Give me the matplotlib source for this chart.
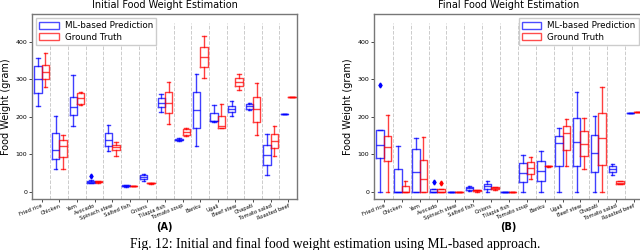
import matplotlib
matplotlib.use('Agg')
import matplotlib.pyplot as plt
from matplotlib.patches import Patch

alimentos = ['Fried rice', 'Chicken', 'Yam', 'Avocado', 'Spinach stew', 'Salted fish', 'Onions',
             'Tilapia fish', 'Tomato soup', 'Banku', 'Ugali', 'Beef stew', 'Chapati',
             'Tomato salad', 'Roasted beef']

# estadisticas: [bigote inf, q1, mediana, q3, bigote sup]
inicial_pred = [[229, 264, 302, 336, 356], [61, 86, 110, 156, 203], [176, 205, 226, 252, 312],
                [22, 23, 25, 29, 30], [109, 121, 138, 156, 179], [12, 14, 16, 17, 18],
                [29, 33, 38, 44, 48], [214, 226, 237, 250, 261], [136, 138, 139, 140, 142],
                [121, 170, 219, 266, 314], [185, 188, 188, 210, 232], [203, 212, 221, 230, 241],
                [219, 221, 228, 234, 236], [43, 71, 99, 125, 154], [208, 208, 208, 208, 208]]
inicial_real = [[279, 301, 319, 339, 370], [59, 93, 121, 139, 150], [232, 235, 250, 263, 266],
                [24, 25, 26, 27, 27], [94, 112, 119, 125, 132], [14, 14, 15, 15, 15],
                [21, 22, 23, 24, 24], [181, 209, 236, 266, 292], [149, 152, 159, 166, 170],
                [305, 332, 359, 388, 416], [169, 171, 174, 203, 235], [272, 283, 294, 303, 314],
                [152, 186, 220, 254, 290], [96, 116, 134, 154, 174], [254, 254, 254, 254, 254]]
inicial_pred_out = [[], [], [], [41], [], [], [], [], [], [], [], [], [], [], []]
inicial_real_out = [[] for _ in alimentos]

final_pred = [[0, 90, 124, 165, 165], [0, 0, 0, 61, 123], [0, 0, 53, 114, 143],
              [0, 0, 0, 6, 6], [0, 0, 0, 0, 0], [1, 4, 9, 11, 15],
              [0, 7, 14, 20, 28], [0, 0, 0, 0, 0], [0, 25, 50, 75, 99],
              [0, 29, 56, 83, 109], [0, 68, 130, 149, 171], [0, 68, 132, 198, 266],
              [0, 52, 103, 152, 203], [45, 52, 61, 69, 74], [211, 211, 211, 211, 211]]
final_real = [[0, 81, 118, 148, 205], [0, 0, 0, 14, 28], [0, 0, 34, 85, 146],
              [0, 0, 0, 6, 6], [0, 0, 0, 0, 0], [0, 1, 3, 4, 5],
              [4, 6, 9, 11, 13], [0, 0, 0, 0, 0], [34, 48, 63, 78, 92],
              [66, 67, 68, 69, 69], [68, 110, 156, 174, 194], [59, 94, 128, 163, 198],
              [0, 72, 142, 210, 281], [20, 21, 24, 27, 28], [213, 213, 213, 213, 213]]
final_pred_out = [[284], [], [], [25], [], [], [], [], [], [], [], [], [], [], []]
final_real_out = [[], [], [], [24], [], [], [], [], [], [], [], [], [], [], []]


def hacer_stats(datos, outliers):
    stats = []
    for d, o in zip(datos, outliers):
        stats.append({'whislo': d[0], 'q1': d[1], 'med': d[2], 'q3': d[3], 'whishi': d[4], 'fliers': o})
    return stats


def dibujar_caja(ax, stats, posiciones, color):
    props = dict(color=color, linewidth=1.0, alpha=0.75)
    ax.bxp(stats, positions=posiciones, widths=0.42, boxprops=props, medianprops=props,
           whiskerprops=props, capprops=props,
           flierprops=dict(marker='d', markersize=2.5, markerfacecolor=color, markeredgecolor=color),
           capwidths=0.2, manage_ticks=False)


def panel(ax, pred, real, pred_out, real_out, titulo, letra, loc_leyenda):
    n = len(alimentos)
    pos = list(range(n))
    dibujar_caja(ax, hacer_stats(pred, pred_out), [p - 0.21 for p in pos], 'blue')
    dibujar_caja(ax, hacer_stats(real, real_out), [p + 0.21 for p in pos], 'red')
    ax.vlines([p + 0.5 for p in pos[:-1]], -20, 452, colors='#cccccc', linestyles='--', linewidth=0.7, zorder=0)
    ax.set_xlim(-0.55, 14.5)
    ax.set_ylim(-20, 475)
    ax.set_xticks(pos)
    ax.set_xticklabels(alimentos, rotation=22, ha='right', rotation_mode='anchor', fontsize=3.8)
    ax.set_yticks([0, 100, 200, 300, 400])
    ax.tick_params(axis='y', labelsize=4.5, length=2, width=0.5, pad=1.5)
    ax.tick_params(axis='x', length=2, width=0.5, pad=1)
    for s in ax.spines.values():
        s.set_color('#777777')
        s.set_linewidth(1.0)
    ax.set_ylabel('Food Weight (gram)', fontsize=7, labelpad=3)
    ax.set_title(titulo, fontsize=7, pad=4)
    handles = [Patch(facecolor='white', edgecolor='blue', alpha=0.7, label='ML-based Prediction'),
               Patch(facecolor='white', edgecolor='red', alpha=0.7, label='Ground Truth')]
    ax.legend(handles=handles, loc=loc_leyenda, fontsize=6.3, handlelength=2.2, handleheight=0.9,
              borderpad=0.35, labelspacing=0.25, handletextpad=0.7, fancybox=False, framealpha=1)
    ax.text(0.5, -0.125, letra, transform=ax.transAxes, ha='center', va='top', fontsize=7, fontweight='bold')


fig = plt.figure(figsize=(6.4, 2.5), dpi=100)
ax1 = fig.add_axes([32 / 640, 51 / 250, 265 / 640, 185 / 250])
ax2 = fig.add_axes([374 / 640, 51 / 250, 269 / 640, 185 / 250])

panel(ax1, inicial_pred, inicial_real, inicial_pred_out, inicial_real_out,
      'Initial Food Weight Estimation', '(A)', 'upper left')
panel(ax2, final_pred, final_real, final_pred_out, final_real_out,
      'Final Food Weight Estimation', '(B)', 'upper right')

fig.text(130 / 640, 13 / 250, 'Fig. 12: Initial and final food weight estimation using ML-based approach.',
         family='Liberation Serif', fontsize=9.8, va='top', ha='left')

fig.savefig('out.png', dpi=100)
